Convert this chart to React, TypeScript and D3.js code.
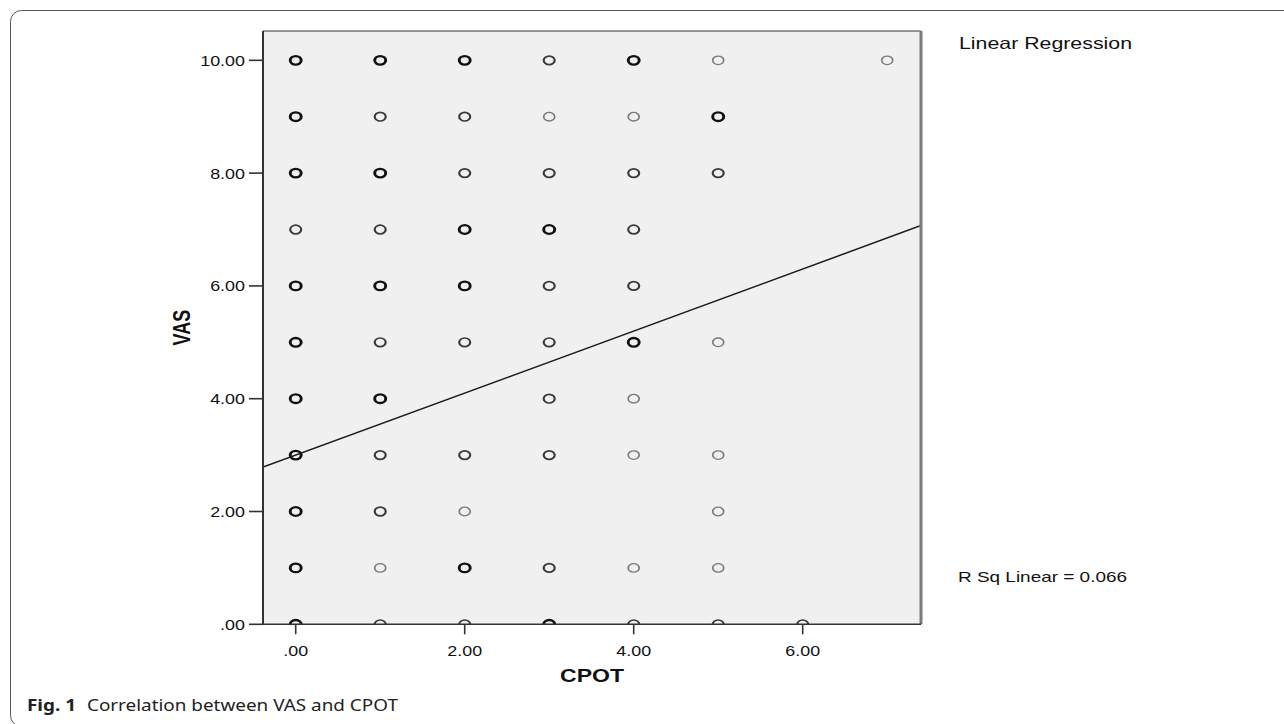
import React from 'react';
import * as d3 from 'd3';

// CPOT (x), VAS (y) and overlap weight (1 = single case, 2 = few, 3 = many overlapping cases)
const cpot = [
  0, 1, 2, 3, 4, 5, 7,
  0, 1, 2, 3, 4, 5,
  0, 1, 2, 3, 4, 5,
  0, 1, 2, 3, 4,
  0, 1, 2, 3, 4,
  0, 1, 2, 3, 4, 5,
  0, 1, 3, 4,
  0, 1, 2, 3, 4, 5,
  0, 1, 2, 5,
  0, 1, 2, 3, 4, 5,
  0, 1, 2, 3, 4, 5, 6,
];
const vas = [
  10, 10, 10, 10, 10, 10, 10,
  9, 9, 9, 9, 9, 9,
  8, 8, 8, 8, 8, 8,
  7, 7, 7, 7, 7,
  6, 6, 6, 6, 6,
  5, 5, 5, 5, 5, 5,
  4, 4, 4, 4,
  3, 3, 3, 3, 3, 3,
  2, 2, 2, 2,
  1, 1, 1, 1, 1, 1,
  0, 0, 0, 0, 0, 0, 0,
];
const overlap = [
  3, 3, 3, 2, 3, 1, 1,
  3, 2, 2, 1, 1, 3,
  3, 3, 2, 2, 2, 2,
  2, 2, 3, 3, 2,
  3, 3, 3, 2, 2,
  3, 2, 2, 2, 3, 1,
  3, 3, 2, 1,
  3, 2, 2, 2, 1, 1,
  3, 2, 1, 1,
  3, 1, 3, 2, 1, 1,
  3, 2, 2, 3, 2, 2, 2,
];

const xTicks = [0, 2, 4, 6];
const yTicks = [0, 2, 4, 6, 8, 10];
const regIntercept = 3.0;
const regSlope = 0.55;
const rSqLinear = 0.066;

const xTitle = 'CPOT';
const yTitle = 'VAS';
const legendTitle = 'Linear Regression';
const captionLabel = 'Fig. 1';
const captionText = 'Correlation between VAS and CPOT';

const fmt = (v: number) => (v === 0 ? '.00' : v.toFixed(2));

const SX = 1.28; // horizontal stretch of the original raster
const FONT = '"Liberation Sans", Arial, sans-serif';

const strokeFor = (w: number) => (w >= 3 ? '#111' : w === 2 ? '#3a3a3a' : '#7a7a7a');
const widthFor = (w: number) => (w >= 3 ? 2.3 : w === 2 ? 1.7 : 1.3);

export default function App() {
  const W = 1284;
  const H = 724;
  const plot = { left: 263, top: 31, right: 921, bottom: 624.3 };

  const x = d3.scaleLinear().domain([-0.387, 7.4]).range([plot.left, plot.right]);
  const y = d3.scaleLinear().domain([0, 10.52]).range([plot.bottom, plot.top]);

  const [x0, x1] = x.domain();
  const regLine = d3
    .line<number>()
    .x((d) => x(d))
    .y((d) => y(regIntercept + regSlope * d))([x0, x1]);

  const pts = cpot.map((c, i) => ({ c, v: vas[i], w: overlap[i] }));

  return (
    <svg
      width={W}
      height={H}
      style={{ position: 'absolute', left: 0, top: 0, display: 'block', background: '#fff' }}
    >
      <defs>
        <clipPath id="plotClip">
          <rect x={plot.left} y={plot.top} width={plot.right - plot.left} height={plot.bottom - plot.top} />
        </clipPath>
      </defs>

      {/* outer frame */}
      <rect x={10.5} y={10.5} width={1300} height={716} rx={11} fill="none" stroke="#555" strokeWidth={1} />

      {/* plot background */}
      <rect
        x={plot.left}
        y={plot.top}
        width={plot.right - plot.left}
        height={plot.bottom - plot.top}
        fill="#f0f0f0"
      />

      {/* points */}
      <g clipPath="url(#plotClip)">
        {pts.map((p, i) => (
          <circle
            key={i}
            r={4.3}
            transform={`translate(${x(p.c)},${y(p.v)}) scale(${SX},1)`}
            fill="none"
            stroke={strokeFor(p.w)}
            strokeWidth={widthFor(p.w)}
          />
        ))}
        <path d={regLine || ''} fill="none" stroke="#1a1a1a" strokeWidth={1.5} />
      </g>

      {/* frame of plot */}
      <line x1={plot.left} x2={plot.right} y1={plot.top} y2={plot.top} stroke="#333" strokeWidth={1.2} />
      <line x1={plot.right} x2={plot.right} y1={plot.top} y2={plot.bottom} stroke="#7a7a7a" strokeWidth={3} />
      <line x1={plot.left} x2={plot.left} y1={plot.top} y2={plot.bottom + 0.8} stroke="#333" strokeWidth={2} />
      <line x1={plot.left} x2={plot.right} y1={plot.bottom} y2={plot.bottom} stroke="#333" strokeWidth={1.6} />

      {/* y axis ticks */}
      {yTicks.map((t) => (
        <g key={`y${t}`}>
          <line x1={plot.left - 14} x2={plot.left} y1={y(t)} y2={y(t)} stroke="#333" strokeWidth={1.6} />
          <text
            transform={`translate(${plot.left - 18},${y(t) + 5.5}) scale(${SX},1)`}
            textAnchor="end"
            fontFamily={FONT}
            fontSize={14}
            fill="#111"
          >
            {fmt(t)}
          </text>
        </g>
      ))}

      {/* x axis ticks */}
      {xTicks.map((t) => (
        <g key={`x${t}`}>
          <line x1={x(t)} x2={x(t)} y1={plot.bottom} y2={plot.bottom + 10} stroke="#333" strokeWidth={1.6} />
          <text
            transform={`translate(${x(t)},${plot.bottom + 32}) scale(${SX},1)`}
            textAnchor="middle"
            fontFamily={FONT}
            fontSize={14}
            fill="#111"
          >
            {fmt(t)}
          </text>
        </g>
      ))}

      {/* axis titles */}
      <text
        transform={`translate(${(plot.left + plot.right) / 2},${plot.bottom + 58}) scale(${SX},1)`}
        textAnchor="middle"
        fontFamily={FONT}
        fontWeight="bold"
        fontSize={18}
        fill="#111"
      >
        {xTitle}
      </text>
      <text
        transform={`translate(${190},${(plot.top + plot.bottom) / 2}) rotate(-90) scale(1,${SX})`}
        textAnchor="middle"
        fontFamily={FONT}
        fontWeight="bold"
        fontSize={18}
        fill="#111"
      >
        {yTitle}
      </text>

      {/* legend texts */}
      <text
        x={959}
        y={49}
        fontFamily={FONT}
        fontSize={16.5}
        textLength={173}
        lengthAdjust="spacingAndGlyphs"
        fill="#111"
      >
        {legendTitle}
      </text>
      <text
        x={958}
        y={582}
        fontFamily={FONT}
        fontSize={15}
        textLength={169}
        lengthAdjust="spacingAndGlyphs"
        fill="#111"
      >
        {`R Sq Linear = ${rSqLinear.toFixed(3)}`}
      </text>

      {/* caption */}
      <text transform={`translate(27,711) scale(1.22,1)`} fontFamily='"Noto Sans", "Open Sans", sans-serif' fontSize={15.5} fill="#222">
        <tspan fontWeight="bold">{captionLabel}</tspan>
        <tspan dx={9}>{captionText}</tspan>
      </text>
    </svg>
  );
}
